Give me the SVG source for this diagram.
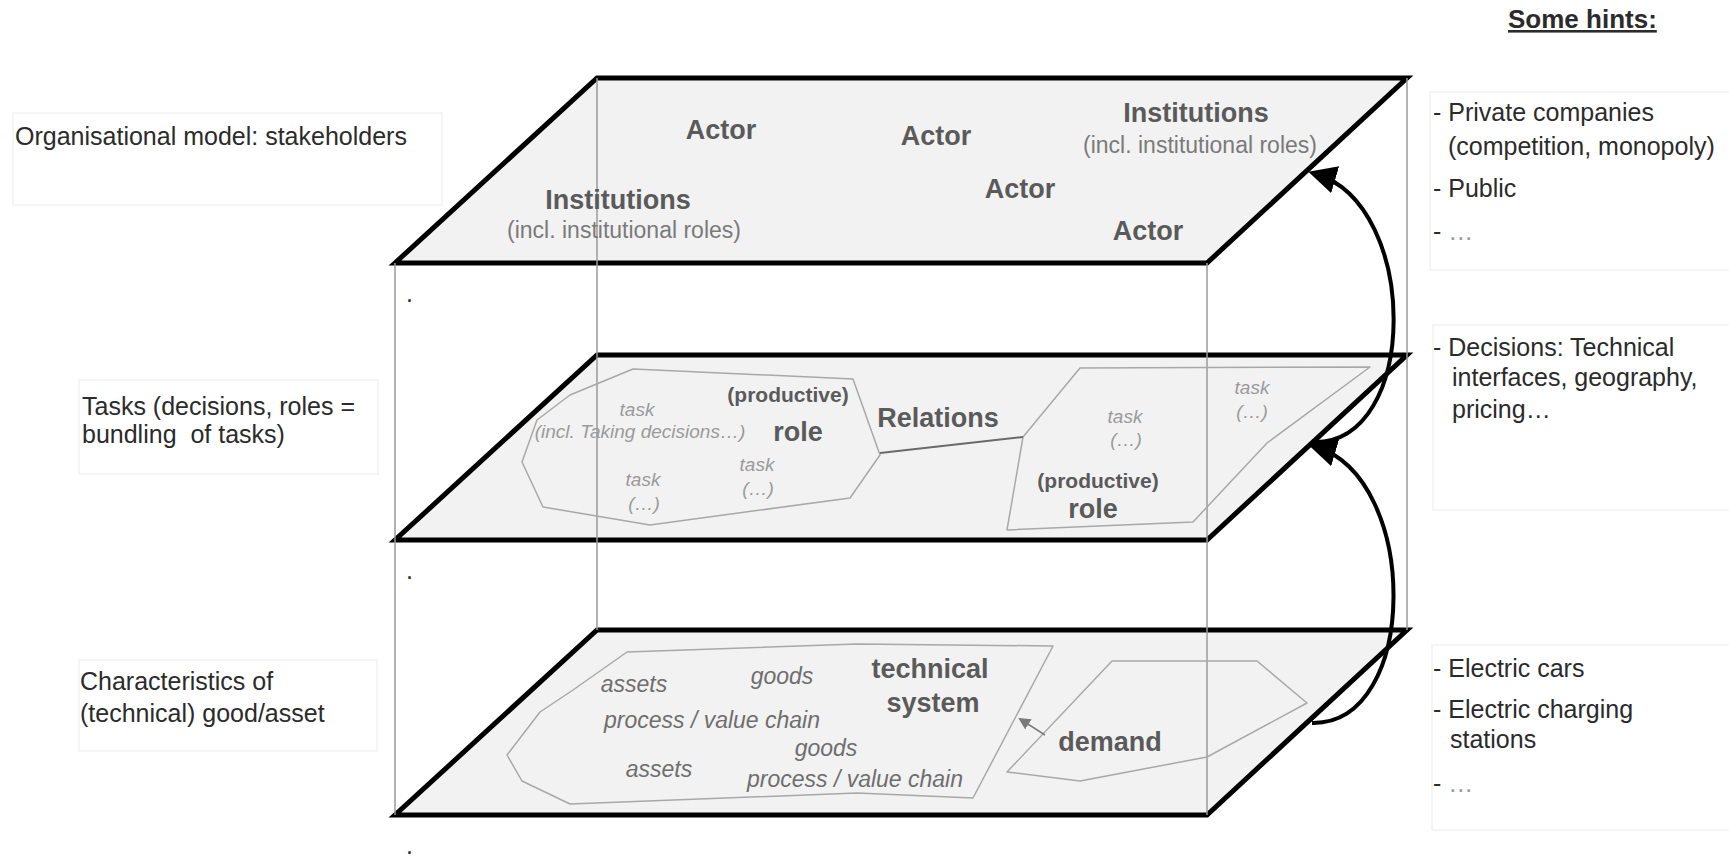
<svg xmlns="http://www.w3.org/2000/svg" width="1729" height="857" viewBox="0 0 1729 857">
  <defs>
    <style>
      text { font-family: "Liberation Sans", Arial, sans-serif; }
      .plane { fill: #f2f2f2; stroke: #000; stroke-width: 5; stroke-linejoin: miter; }
      .edge { stroke: #9a9a9a; stroke-width: 1.5; fill: none; }
      .box { fill: #fff; stroke: #ececec; stroke-width: 1; }
      .label { font-size: 25px; fill: #2b2b2b; }
      .hint { font-size: 25px; fill: #2b2b2b; }
      .dots { fill: #9a9a9a; }
      .big { font-size: 27px; font-weight: bold; fill: #5a5a5a; text-anchor: middle; }
      .sub { font-size: 23px; fill: #7a7a7a; text-anchor: middle; }
      .prod { font-size: 21px; font-weight: bold; fill: #5a5a5a; text-anchor: middle; }
      .task { font-size: 19px; font-style: italic; fill: #9a9a9a; text-anchor: middle; }
      .item { font-size: 23px; font-style: italic; fill: #6e6e6e; text-anchor: middle; }
      .outline { fill: none; stroke: #a8a8a8; stroke-width: 1.5; stroke-linejoin: round; }
      .flow { fill: none; stroke: #000; stroke-width: 4; marker-end: url(#head); }
    </style>
    <marker id="head" markerUnits="userSpaceOnUse" markerWidth="32" markerHeight="32" refX="20" refY="14" orient="auto">
      <path d="M0,0 L28,14 L0,28 Z" fill="#000"/>
    </marker>
    <marker id="smallhead" markerUnits="userSpaceOnUse" markerWidth="14" markerHeight="14" refX="10" refY="6" orient="auto">
      <path d="M0,0 L12,6 L0,12 Z" fill="#7a7a7a"/>
    </marker>
  </defs>

  <rect width="1729" height="857" fill="#fff"/>

  <!-- three stacked layers -->
  <g id="layer-organisation">
    <polygon class="plane" points="597,78 1407,78 1207,263 395,263"/>
  </g>
  <g id="layer-tasks">
    <polygon class="plane" points="597,355 1407,355 1207,540 395,540"/>
  </g>
  <g id="layer-technical">
    <polygon class="plane" points="597,630 1407,630 1207,815 395,815"/>
  </g>

  <!-- box edges -->
  <g id="box-edges">
    <line class="edge" x1="395" y1="263" x2="395" y2="815"/>
    <line class="edge" x1="597" y1="78" x2="597" y2="630"/>
    <line class="edge" x1="1207" y1="263" x2="1207" y2="815"/>
    <line class="edge" x1="1407" y1="78" x2="1407" y2="630"/>
  </g>

  <!-- stray marks -->
  <g id="marks" class="label">
    <text x="406" y="302">.</text>
    <text x="406" y="579">.</text>
    <text x="406" y="854">.</text>
  </g>

  <!-- organisation layer content -->
  <g id="actor-1"><text class="big" x="721" y="139">Actor</text></g>
  <g id="actor-2"><text class="big" x="936" y="145">Actor</text></g>
  <g id="actor-3"><text class="big" x="1020" y="198">Actor</text></g>
  <g id="actor-4"><text class="big" x="1148" y="240">Actor</text></g>
  <g id="institutions-right">
    <text class="big" x="1196" y="122">Institutions</text>
    <text class="sub" x="1200" y="153">(incl. institutional roles)</text>
  </g>
  <g id="institutions-left">
    <text class="big" x="618" y="209">Institutions</text>
    <text class="sub" x="624" y="238">(incl. institutional roles)</text>
  </g>

  <!-- task layer content -->
  <g id="role-left">
    <polygon class="outline" points="633,369 853,379 880,455 850,498 650,525 543,507 522,462 537,420 570,395"/>
    <text class="task" x="637" y="416">task</text>
    <text class="task" x="640" y="438">(incl. Taking decisions…)</text>
    <text class="prod" x="788" y="402">(productive)</text>
    <text class="big" x="798" y="441">role</text>
    <text class="task" x="757" y="471">task</text>
    <text class="task" x="758" y="495">(…)</text>
    <text class="task" x="643" y="486">task</text>
    <text class="task" x="644" y="510">(…)</text>
  </g>
  <g id="relations"><text class="big" x="938" y="427">Relations</text></g>
  <g id="role-right">
    <polygon class="outline" points="1080,368 1370,367 1267,443 1193,522 1007,530 1023,437"/>
    <text class="task" x="1125" y="423">task</text>
    <text class="task" x="1126" y="446">(…)</text>
    <text class="prod" x="1098" y="488">(productive)</text>
    <text class="big" x="1093" y="518">role</text>
    <text class="task" x="1252" y="394">task</text>
    <text class="task" x="1252" y="418">(…)</text>
  </g>

  <!-- technical layer content -->
  <g id="technical-system">
    <polygon class="outline" points="627,652 857,644 1053,646 973,798 857,793 570,804 522,781 507,755 540,712 573,690"/>
    <text class="item" x="634" y="692">assets</text>
    <text class="item" x="782" y="684">goods</text>
    <text class="big" x="930" y="678">technical</text>
    <text class="big" x="933" y="712">system</text>
    <text class="item" x="712" y="728">process / value chain</text>
    <text class="item" x="826" y="756">goods</text>
    <text class="item" x="659" y="777">assets</text>
    <text class="item" x="855" y="787">process / value chain</text>
  </g>
  <g id="demand">
    <polygon class="outline" points="1112,661 1257,661 1307,703 1207,757 1080,781 1007,772"/>
    <text class="big" x="1110" y="751">demand</text>
  </g>

  <!-- side labels -->
  <g id="label-organisation">
    <rect class="box" x="13" y="113" width="429" height="92"/>
    <text class="label" x="15" y="145">Organisational model: stakeholders</text>
  </g>
  <g id="label-tasks">
    <rect class="box" x="79" y="380" width="299" height="94"/>
    <text class="label" x="82" y="415">Tasks (decisions, roles =</text>
    <text class="label" x="82" y="443">bundling&#160; of tasks)</text>
  </g>
  <g id="label-technical">
    <rect class="box" x="79" y="660" width="298" height="91"/>
    <text class="label" x="80" y="690">Characteristics of</text>
    <text class="label" x="80" y="722">(technical) good/asset</text>
  </g>

  <!-- hints column -->
  <g id="hints-title">
    <text x="1508" y="28" font-size="26" font-weight="bold" fill="#2b2b2b" text-decoration="underline">Some hints:</text>
  </g>
  <g id="hints-organisation">
    <rect class="box" x="1430" y="92" width="300" height="178"/>
    <text class="hint" x="1433" y="121">- Private companies</text>
    <text class="hint" x="1448" y="155">(competition, monopoly)</text>
    <text class="hint" x="1433" y="197">- Public</text>
    <text class="hint" x="1433" y="240">- <tspan class="dots">…</tspan></text>
  </g>
  <g id="hints-tasks">
    <rect class="box" x="1433" y="325" width="297" height="185"/>
    <text class="hint" x="1433" y="356">- Decisions: Technical</text>
    <text class="hint" x="1452" y="386">interfaces, geography,</text>
    <text class="hint" x="1452" y="418">pricing…</text>
  </g>
  <g id="hints-technical">
    <rect class="box" x="1432" y="645" width="298" height="185"/>
    <text class="hint" x="1433" y="677">- Electric cars</text>
    <text class="hint" x="1433" y="718">- Electric charging</text>
    <text class="hint" x="1450" y="748">stations</text>
    <text class="hint" x="1433" y="792">- <tspan class="dots">…</tspan></text>
  </g>

  <!-- connectors -->
  <g id="connectors">
    <line x1="880" y1="453" x2="1023" y2="437" stroke="#6a6a6a" stroke-width="2"/>
    <line x1="1045" y1="735" x2="1020" y2="719" stroke="#7a7a7a" stroke-width="1.5" marker-end="url(#smallhead)"/>
    <path class="flow" d="M1312,723 C1420,725 1420,478 1316,447"/>
    <path class="flow" d="M1313,442 C1420,445 1420,205 1316,174"/>
  </g>
</svg>
